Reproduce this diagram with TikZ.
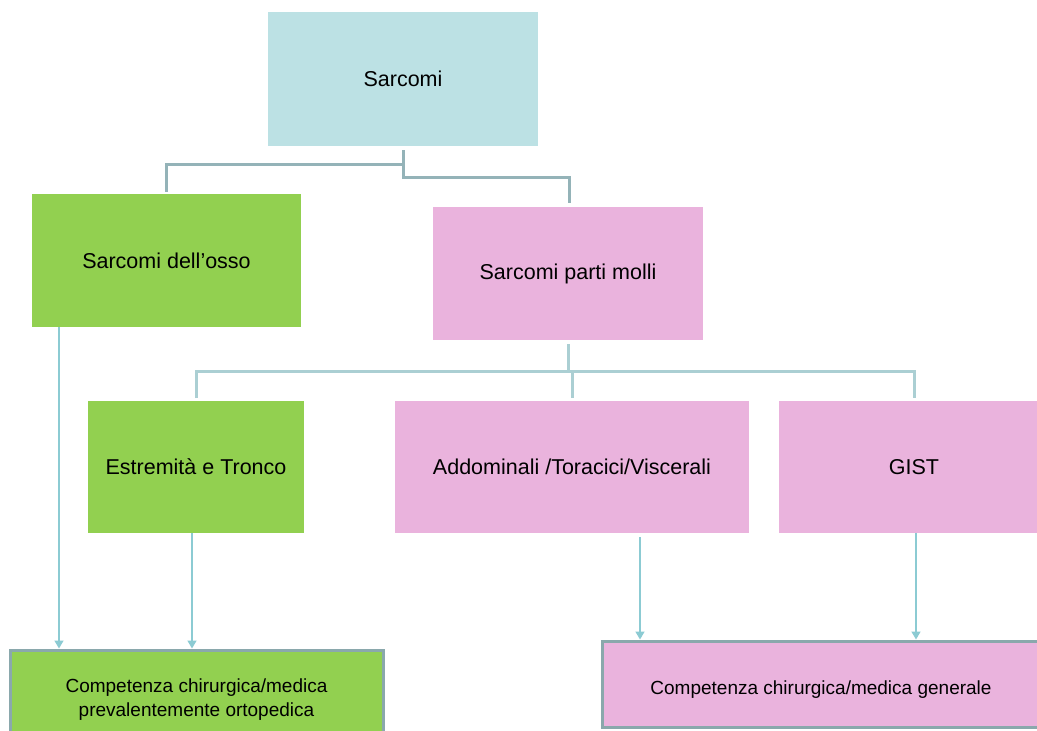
\documentclass[tikz,border=0pt]{standalone}
\usepackage{fontspec}
\setmainfont{Liberation Sans}
\usetikzlibrary{arrows.meta}
\definecolor{topblue}{HTML}{BCE1E4}
\definecolor{boxgreen}{HTML}{92D050}
\definecolor{boxpink}{HTML}{EAB3DD}
\definecolor{linkA}{HTML}{94B3B8}
\definecolor{linkB}{HTML}{ABCFD3}
\definecolor{arrowc}{HTML}{8CCBD3}
\definecolor{bordc}{HTML}{8AA8AC}
\tikzset{
  boxnode/.style={rectangle, inner sep=0pt, draw=none, align=center,
    font=\fontsize{21.5}{26}\selectfont},
  botnode/.style={rectangle, inner sep=0pt, draw=bordc, line width=3pt, align=center,
    font=\fontsize{19}{24}\selectfont},
  linkone/.style={draw=linkA, line width=3pt},
  linktwo/.style={draw=linkB, line width=3pt},
  arr/.style={draw=arrowc, line width=1.5pt, -{Triangle[width=9pt,length=8pt]}}
}
\begin{document}
\begin{tikzpicture}[x=1pt,y=-1pt]
\useasboundingbox (0,0) rectangle (1037,731);
\clip (0,0) rectangle (1037,731);
\fill[white] (0,0) rectangle (1037,731);

\node[boxnode, fill=topblue, minimum width=270pt, minimum height=134pt] (top) at (403,79) {Sarcomi};
\node[boxnode, fill=boxgreen, minimum width=269pt, minimum height=133pt] (osso) at (166.5,260.5) {Sarcomi dell’osso};
\node[boxnode, fill=boxpink, minimum width=270pt, minimum height=133pt] (molli) at (568,273.5) {Sarcomi parti molli};
\node[boxnode, fill=boxgreen, minimum width=216pt, minimum height=132pt] (estr) at (196,467) {Estremità e Tronco};
\node[boxnode, fill=boxpink, minimum width=354pt, minimum height=132pt] (addo) at (572,467) {Addominali /Toracici/Viscerali};
\node[boxnode, fill=boxpink, minimum width=270pt, minimum height=132pt] (gist) at (914,467) {GIST};

\node[botnode, fill=boxgreen, minimum width=373pt, minimum height=100pt] (ortho) at (196.5,700) {Competenza chirurgica/medica\\prevalentemente ortopedica};
\node[botnode, fill=boxpink, minimum width=460pt, minimum height=86pt] (gen) at (832,684) {};
\node[font=\fontsize{19}{24}\selectfont, inner sep=0pt] (gentext) at (821,690) {Competenza chirurgica/medica generale};

% level-1 connectors
\coordinate (j1) at (403,164);
\coordinate (j2) at (403,177);
\draw[linkone] (403,150) -- (j2) -- (569,177) -- (569,203);
\draw[linkone] (j1) -- (166,164) -- (166,192);

% level-2 connectors
\coordinate (k1) at (568,371);
\draw[linktwo] (568,344) -- (k1);
\draw[linktwo] (196,398) -- (196,371) -- (914,371) -- (914,398);
\draw[linktwo] (572,371) -- (572,398);

% arrows
\draw[arr] (osso.south -| 59,0) -- (ortho.north -| 59,0);
\draw[arr] (estr.south -| 192,0) -- (ortho.north -| 192,0);
\draw[arr] (640,537) -- (gen.north -| 640,0);
\draw[arr] (gist.south -| 916,0) -- (gen.north -| 916,0);
\end{tikzpicture}
\end{document}
